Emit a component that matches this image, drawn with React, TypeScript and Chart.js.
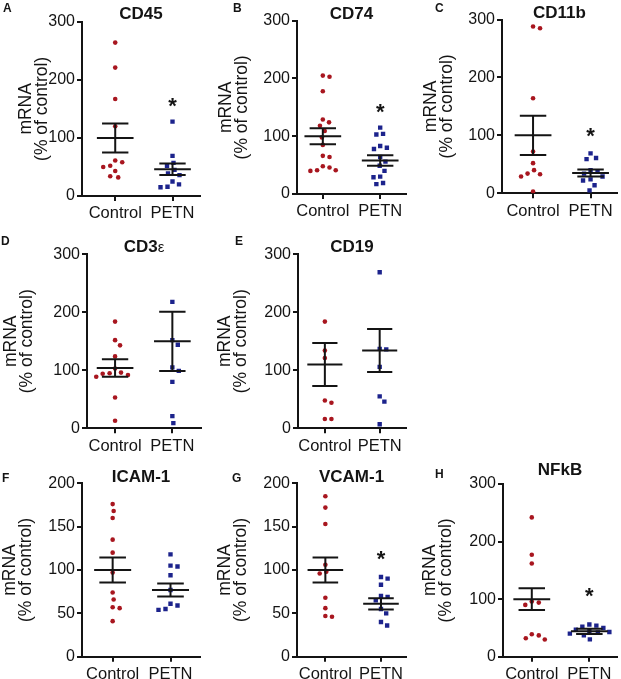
import React, { useEffect, useRef } from 'react';
import { Chart, registerables } from 'chart.js';

Chart.register(...registerables);

const FONT = "'Liberation Sans', Arial, sans-serif";
Chart.defaults.font.family = FONT;
Chart.defaults.color = '#111111';

const groups = ['Control', 'PETN'];
const yAxisTitle = ['mRNA', '(% of control)'];

// ---- data ----
const cd45Control = [264, 221, 167, 120, 61, 58, 52, 50, 43, 32, 34];
const cd45Petn = [128, 69, 57, 52, 45, 39, 36, 25, 20, 16, 15];
const cd45Mean = [100, 46];
const cd45Sem = [25, 10];
const cd45Star = 164;

const cd74Control = [205, 203, 178, 129, 124, 118, 109, 98, 85, 66, 64, 48, 46, 41, 40, 41];
const cd74Petn = [115, 104, 103, 83, 80, 78, 64, 56, 49, 40, 30, 29, 19, 17];
const cd74Mean = [100, 58];
const cd74Sem = [14, 9];
const cd74Star = 152;

const cd11bControl = [288, 285, 164, 72, 52, 40, 34, 33, 29, 3];
const cd11bPetn = [69, 61, 59, 40, 38, 34, 29, 24, 22, 14, 5];
const cd11bMean = [100, 35];
const cd11bSem = [34, 6];
const cd11bStar = 108;

const cd3eControl = [184, 152, 143, 124, 103, 96, 95, 94, 92, 89, 53, 13];
const cd3ePetn = [218, 152, 144, 105, 99, 80, 21, 9];
const cd3eMean = [104, 150];
const cd3eSem = [15, 51];

const cd19Control = [184, 134, 121, 48, 44, 16, 16];
const cd19Petn = [269, 137, 136, 106, 55, 46, 7];
const cd19Mean = [110, 134];
const cd19Sem = [37, 37];

const icamControl = [176, 168, 160, 135, 120, 97, 74, 66, 57, 56, 41];
const icamPetn = [118, 105, 104, 94, 77, 61, 59, 55, 54];
const icamMean = [100, 77];
const icamSem = [14.5, 7.5];

const vcamControl = [185, 172, 153, 106, 98, 96, 68, 56, 47, 46];
const vcamPetn = [92, 90, 83, 70, 69, 65, 55, 50, 40, 36];
const vcamMean = [100, 61];
const vcamSem = [14.5, 6.5];
const vcamStar = 119;

const nfkbControl = [242, 177, 162, 96, 94, 90, 39, 37, 32, 30];
const nfkbPetn = [56, 54, 52, 50, 47, 45, 43, 42, 40, 37, 30];
const nfkbMean = [100, 44];
const nfkbSem = [19, 4.5];
const nfkbStar = 114;

const panelLetters = ['A', 'B', 'C', 'D', 'E', 'F', 'G', 'H'];
const panelTitles = ['CD45', 'CD74', 'CD11b', 'CD3ε', 'CD19', 'ICAM-1', 'VCAM-1', 'NFkB'];
const panelYMax = [300, 300, 300, 300, 300, 200, 200, 300];
const panelYStep = [100, 100, 100, 100, 100, 50, 50, 100];

const panels = [
  { control: cd45Control, petn: cd45Petn, mean: cd45Mean, sem: cd45Sem, star: cd45Star },
  { control: cd74Control, petn: cd74Petn, mean: cd74Mean, sem: cd74Sem, star: cd74Star },
  { control: cd11bControl, petn: cd11bPetn, mean: cd11bMean, sem: cd11bSem, star: cd11bStar },
  { control: cd3eControl, petn: cd3ePetn, mean: cd3eMean, sem: cd3eSem, star: null },
  { control: cd19Control, petn: cd19Petn, mean: cd19Mean, sem: cd19Sem, star: null },
  { control: icamControl, petn: icamPetn, mean: icamMean, sem: icamSem, star: null },
  { control: vcamControl, petn: vcamPetn, mean: vcamMean, sem: vcamSem, star: vcamStar },
  { control: nfkbControl, petn: nfkbPetn, mean: nfkbMean, sem: nfkbSem, star: nfkbStar },
];

// ---- layout (absolute page coordinates) ----
const layouts = [
  { cl: 0, ct: 0, cw: 205, ch: 225, axisX: 82, top: 21.7, bottom: 196, right: 200, xMin: -0.58, xMax: 1.48, yTitleX: 26, lx: 3, ly: 12, ty: 19 },
  { cl: 205, ct: 0, cw: 205, ch: 225, axisX: 297, top: 20.7, bottom: 194, right: 411, xMin: -0.45, xMax: 1.45, yTitleX: 226.5, lx: 233, ly: 12, ty: 19 },
  { cl: 410, ct: 0, cw: 211, ch: 225, axisX: 502, top: 19.5, bottom: 193.3, right: 617, xMin: -0.54, xMax: 1.46, yTitleX: 431.5, lx: 435, ly: 12, ty: 18 },
  { cl: 0, ct: 225, cw: 205, ch: 230, axisX: 87, top: 254.3, bottom: 428.3, right: 202, xMin: -0.49, xMax: 1.5, yTitleX: 11.5, lx: 1, ly: 245, ty: 252 },
  { cl: 205, ct: 225, cw: 205, ch: 230, axisX: 298, top: 254.3, bottom: 428.3, right: 413, xMin: -0.49, xMax: 1.48, yTitleX: 225, lx: 235, ly: 245, ty: 252 },
  { cl: 0, ct: 455, cw: 205, ch: 224, axisX: 82, top: 483.3, bottom: 656.7, right: 200, xMin: -0.53, xMax: 1.51, yTitleX: 10, lx: 2, ly: 482, ty: 482 },
  { cl: 205, ct: 455, cw: 205, ch: 224, axisX: 297, top: 483.3, bottom: 656.7, right: 412, xMin: -0.51, xMax: 1.45, yTitleX: 225.5, lx: 232, ly: 482, ty: 482 },
  { cl: 410, ct: 455, cw: 211, ch: 224, axisX: 503, top: 484, bottom: 656.7, right: 617, xMin: -0.5, xMax: 1.48, yTitleX: 430, lx: 435, ly: 478, ty: 475 },
];

const RED = '#a8161f';
const BLUE = '#1c238c';
const INK = '#141414';

// simple beeswarm: spread points horizontally so they do not overlap
function swarm(values: number[], yMax: number, plotH: number, minDist: number): number[] {
  const placed: [number, number][] = [];
  return values.map((v) => {
    const y = (v / yMax) * plotH;
    let chosen = 0;
    for (let k = 0; k < 80; k++) {
      const dx = (k % 2 === 1 ? 1 : -1) * Math.ceil(k / 2) * 0.5;
      const hit = placed.some(([px, py]) => (px - dx) ** 2 + (py - y) ** 2 < minDist * minDist);
      if (!hit) { chosen = dx; break; }
    }
    placed.push([chosen, y]);
    return chosen;
  });
}

function Panel({ index }: { index: number }) {
  const ref = useRef<HTMLCanvasElement | null>(null);
  useEffect(() => {
    const p = panels[index];
    const L = layouts[index];
    const yMax = panelYMax[index];
    const plotH = L.bottom - L.top;
    const pxPerUnit = (L.right - L.axisX) / (L.xMax - L.xMin);
    const offC = swarm(p.control, yMax, plotH, 7);
    const offP = swarm(p.petn, yMax, plotH, 7);

    const decor = {
      id: 'decor',
      afterDatasetsDraw(chart: any) {
        const { ctx, chartArea, scales } = chart;
        const xs = scales.x;
        const ys = scales.y;
        ctx.save();
        ctx.strokeStyle = INK;
        ctx.lineWidth = 2;
        ctx.lineCap = 'butt';
        [0, 1].forEach((g) => {
          const m = p.mean[g];
          const s = p.sem[g];
          const ym = ys.getPixelForValue(m);
          const yh = ys.getPixelForValue(m + s);
          const yl = ys.getPixelForValue(m - s);
          const xc = xs.getPixelForValue(g);
          ctx.beginPath();
          ctx.moveTo(xs.getPixelForValue(g - 0.32), ym);
          ctx.lineTo(xs.getPixelForValue(g + 0.32), ym);
          ctx.moveTo(xc, yh);
          ctx.lineTo(xc, yl);
          ctx.moveTo(xs.getPixelForValue(g - 0.23), yh);
          ctx.lineTo(xs.getPixelForValue(g + 0.23), yh);
          ctx.moveTo(xs.getPixelForValue(g - 0.23), yl);
          ctx.lineTo(xs.getPixelForValue(g + 0.23), yl);
          ctx.stroke();
        });
        ctx.fillStyle = INK;
        if (p.star != null) {
          ctx.font = `bold 22px ${FONT}`;
          ctx.textAlign = 'center';
          ctx.textBaseline = 'alphabetic';
          ctx.fillText('*', xs.getPixelForValue(1), ys.getPixelForValue(p.star) + 0.56 * 22);
        }
        ctx.textBaseline = 'alphabetic';
        ctx.font = `bold 12px ${FONT}`;
        ctx.textAlign = 'left';
        ctx.fillText(panelLetters[index], L.lx - L.cl, L.ly - L.ct);
        // title; a trailing Greek letter is set in regular weight
        const title = panelTitles[index];
        const cx = (chartArea.left + chartArea.right) / 2;
        const ty = L.ty - L.ct;
        const last = title.slice(-1);
        if (/[α-ω]/.test(last)) {
          const head = title.slice(0, -1);
          const boldF = `bold 17px ${FONT}`;
          const regF = `15px ${FONT}`;
          ctx.font = boldF;
          const w1 = ctx.measureText(head).width;
          ctx.font = regF;
          const w2 = ctx.measureText(last).width;
          const x0 = cx - (w1 + w2) / 2;
          ctx.font = boldF;
          ctx.fillText(head, x0, ty);
          ctx.font = regF;
          ctx.fillText(last, x0 + w1, ty);
        } else {
          ctx.font = `bold 17px ${FONT}`;
          ctx.textAlign = 'center';
          ctx.fillText(title, cx, ty);
        }
        ctx.restore();
      },
    };

    const axisGrid = {
      drawOnChartArea: false,
      drawTicks: true,
      tickLength: 5,
      lineWidth: 2,
      color: INK,
    };

    const chart = new Chart(ref.current as HTMLCanvasElement, {
      type: 'scatter',
      data: {
        datasets: [
          {
            data: p.control.map((v, i) => ({ x: 0 + offC[i] / pxPerUnit, y: v })),
            pointStyle: 'circle',
            pointRadius: 2.3,
            backgroundColor: RED,
            borderWidth: 0,
          },
          {
            data: p.petn.map((v, i) => ({ x: 1 + offP[i] / pxPerUnit, y: v })),
            pointStyle: 'rect',
            pointRadius: 3.1,
            backgroundColor: BLUE,
            borderWidth: 0,
          },
        ],
      },
      options: {
        animation: false,
        responsive: false,
        events: [],
        layout: {
          padding: { top: L.top - L.ct, right: L.cl + L.cw - L.right, left: 0, bottom: 0 },
        },
        plugins: { legend: { display: false }, tooltip: { enabled: false } },
        scales: {
          x: {
            type: 'linear',
            min: L.xMin,
            max: L.xMax,
            afterBuildTicks: (axis: any) => { axis.ticks = [{ value: 0 }, { value: 1 }]; },
            afterFit: (s: any) => { s.height = L.ch - (L.bottom - L.ct); },
            grid: axisGrid,
            border: { display: true, color: INK, width: 2 },
            ticks: {
              callback: (_v: any, i: number) => groups[i],
              font: { size: 16.5 },
              color: INK,
              padding: 3,
              maxRotation: 0,
              autoSkip: false,
            },
          },
          y: {
            min: 0,
            max: yMax,
            ticks: { stepSize: panelYStep[index], font: { size: 16 }, color: INK, padding: 2 },
            afterFit: (s: any) => { s.width = L.axisX - L.cl; },
            grid: axisGrid,
            border: { display: true, color: INK, width: 2 },
            title: {
              display: true,
              text: yAxisTitle,
              font: { size: 17.5, lineHeight: 16 / 17.5 },
              color: INK,
              padding: { top: L.yTitleX - L.cl - 8, bottom: 0 },
            },
          },
        },
      },
      plugins: [decor],
    } as any);
    return () => chart.destroy();
  }, [index]);

  const L = layouts[index];
  return (
    <canvas
      ref={ref}
      width={L.cw}
      height={L.ch}
      style={{ position: 'absolute', left: L.cl, top: L.ct, width: L.cw, height: L.ch }}
    />
  );
}

export default function App() {
  return (
    <div style={{ position: 'fixed', left: 0, top: 0, width: 621, height: 679, background: '#fff' }}>
      {panels.map((_, i) => (
        <Panel key={i} index={i} />
      ))}
    </div>
  );
}
